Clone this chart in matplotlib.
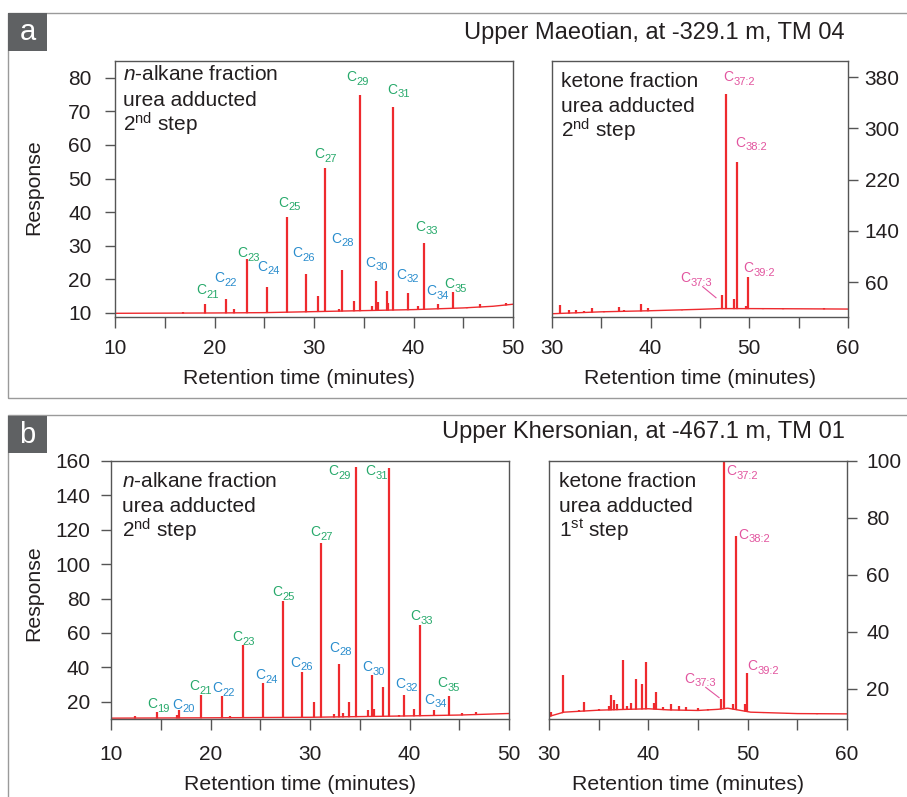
import numpy as np
import matplotlib.pyplot as plt
from matplotlib.patches import Rectangle
from matplotlib.lines import Line2D
from matplotlib.ticker import MultipleLocator

plt.rcParams['font.family'] = ['Liberation Sans', 'DejaVu Sans']
plt.rcParams['mathtext.fontset'] = 'custom'
plt.rcParams['mathtext.rm'] = 'Liberation Sans'
plt.rcParams['mathtext.it'] = 'Liberation Sans:italic'
plt.rcParams['mathtext.bf'] = 'Liberation Sans:bold'

RED = '#ee2a2e'
GREEN = '#27a96b'
BLUE = '#2a8dcd'
PINK = '#e2559f'
FRAME = '#555555'
INK = '#231f20'

W, H = 907, 797

### panel a : n-alkanes (Upper Maeotian)
a_alk_base_t = [10, 20, 25, 30, 35, 40, 45, 48, 50]
a_alk_base_v = [9.9, 10.0, 10.1, 10.4, 10.7, 11.0, 11.5, 12.0, 12.6]
a_alk_peak_t = [16.8, 19.0, 21.15, 22.0, 23.23, 25.28, 27.28, 29.2, 30.37, 31.1, 32.5, 32.85,
                33.97, 34.6, 35.8, 36.25, 36.42, 37.3, 37.47, 37.9, 39.44, 40.47, 41.01,
                42.45, 43.95, 45.4, 46.7, 47.8, 49.3]
a_alk_peak_h = [10.3, 12.6, 14.2, 11.1, 26.2, 17.8, 38.5, 21.6, 15.1, 53.2, 11.3, 22.8,
                13.7, 74.8, 12.1, 19.6, 13.3, 16.6, 13.0, 71.4, 15.9, 12.2, 30.9,
                12.7, 16.2, 11.6, 12.6, 12.2, 12.9]
a_alk_lab = [21, 22, 23, 24, 25, 26, 27, 28, 29, 30, 31, 32, 33, 34, 35]
a_alk_lab_t = [18.21, 19.95, 22.29, 24.3, 26.41, 27.79, 30.03, 31.7, 33.29, 35.2, 37.37,
               38.31, 40.15, 41.32, 43.1]
a_alk_lab_y = [16.8, 20.3, 27.9, 23.8, 42.8, 27.9, 57.2, 32.1, 80.2, 25.0, 76.5,
               21.4, 35.7, 16.5, 18.5]

### panel a : ketones
a_ket_base_t = [30, 35, 40, 45, 47.0, 50.3, 55, 60]
a_ket_base_v = [10.5, 13.5, 15.2, 17.4, 18.5, 18.5, 18.2, 17.8]
a_ket_peak_t = [30.8, 31.7, 32.4, 33.2, 34.1, 35.3, 36.8, 37.3, 39.0, 39.7, 41.5, 43.2,
                44.5, 47.23, 47.6, 48.4, 48.75, 49.7, 49.9, 51.4, 53.4, 57.6]
a_ket_peak_h = [24.5, 16, 17, 15, 19.5, 15, 21.5, 17, 26, 20, 16, 17,
                17.5, 40, 354, 33, 248, 22, 68, 20, 20, 20]
a_ket_lab = ['37:2', '38:2', '39:2', '37:3']
a_ket_lab_t = [47.36, 48.55, 49.39, 43.04]
a_ket_lab_y = [379.5, 277.5, 81.4, 65.8]
a_ket_arrow_t = [45.27, 46.62]
a_ket_arrow_y = [52.7, 35.5]

### panel b : n-alkanes (Upper Khersonian)
b_alk_base_t = [10, 20, 30, 40, 45, 50]
b_alk_base_v = [10.5, 10.7, 11.0, 11.8, 12.3, 13.2]
b_alk_peak_t = [12.4, 14.6, 16.6, 16.8, 19.0, 21.14, 22.0, 23.27, 25.3, 27.32, 29.22,
                30.37, 31.08, 32.38, 32.88, 33.3, 33.95, 34.64, 35.8, 36.26, 36.42,
                37.3, 37.9, 38.9, 39.45, 40.45, 41.02, 42.45, 43.94, 45.3, 46.7]
b_alk_peak_h = [11.5, 13.8, 12.5, 15.2, 24.0, 23.1, 11.5, 52.8, 31.2, 78.8, 37.4,
                20.1, 112.2, 13, 42.1, 13.5, 19.9, 156.7, 15.2, 35.5, 15.8,
                28.6, 155.8, 12.3, 24.0, 16.1, 64.7, 15.4, 23.6, 13.2, 14.0]
b_alk_lab = [19, 20, 21, 22, 23, 24, 25, 26, 27, 28, 29, 30, 31, 32, 33, 34, 35]
b_alk_lab_t = [13.65, 16.13, 17.87, 20.15, 22.23, 24.5, 26.25, 27.99, 30.0, 31.9, 31.84,
               35.26, 35.53, 38.54, 40.05, 41.46, 42.76]
b_alk_lab_y = [18.5, 18.4, 28.9, 28.0, 57.8, 35.4, 83.9, 42.8, 118.8, 51.5, 154,
               40, 154, 30.6, 69.8, 21.2, 31]

### panel b : ketones
b_ket_base_t = [30, 31.5, 35, 40, 42, 45, 47, 48, 50.3, 55, 60]
b_ket_base_v = [10.3, 11.8, 12.5, 13.0, 12.6, 12.4, 12.8, 13.2, 11.8, 11.3, 11.2]
b_ket_peak_t = [30.25, 31.38, 33.0, 33.5, 35.0, 36.0, 36.24, 36.5, 36.8, 37.4, 37.9, 38.3,
                38.8, 39.36, 39.77, 40.6, 40.8, 41.5, 42.25, 43.05, 43.8, 45.0, 46.0,
                47.3, 47.6, 48.55, 48.8, 49.73, 49.93, 51.5, 54.0, 57.0]
b_ket_peak_h = [12, 24.7, 12.5, 15.3, 13, 14, 17.9, 16, 14.5, 30.2, 14, 15,
                23.5, 21.8, 29.5, 15, 18.9, 13.5, 14.7, 14, 13.5, 13.3, 13,
                16.5, 110, 14.8, 73.6, 14.5, 25.4, 12, 11.5, 11.5]
b_ket_lab = ['37:2', '38:2', '39:2', '37:3']
b_ket_lab_t = [47.89, 49.06, 49.97, 43.59]
b_ket_lab_y = [96.4, 74.1, 28.0, 23.6]
b_ket_arrow_t = [45.78, 47.12]
b_ket_arrow_y = [20.5, 16.9]


def px_axes(x0, y0, x1, y1):
    # axes from pixel box (top-left origin)
    return fig.add_axes([x0 / W, 1 - y1 / H, (x1 - x0) / W, (y1 - y0) / H])


def draw_trace(ax, base_t, base_v, peak_t, peak_h):
    floor = ax.get_ylim()[0] - 50
    ax.vlines(peak_t, floor, peak_h, color=RED, lw=1.6, zorder=2)
    # hide the spike feet below the baseline
    ax.fill_between(base_t, floor, base_v, color='white', lw=0, zorder=2.1)
    ax.plot(base_t, base_v, color=RED, lw=1.0, zorder=2.2)


def style_axes(ax, xlim, ylim, yticks, right=False, xpad=6, ypad=10):
    ax.set_xlim(xlim)
    ax.set_ylim(ylim)
    ax.xaxis.set_major_locator(MultipleLocator(10))
    ax.xaxis.set_minor_locator(MultipleLocator(5))
    ax.set_yticks(yticks)
    for s in ax.spines.values():
        s.set_color(FRAME)
        s.set_linewidth(1.0)
    ax.tick_params(axis='x', which='both', direction='out', length=8, width=1,
                   color=FRAME, labelcolor=INK, labelsize=15, pad=xpad)
    ax.tick_params(axis='x', which='minor', labelbottom=False)
    if right:
        ax.yaxis.tick_right()
    ax.tick_params(axis='y', direction='out', length=7, width=1, color=FRAME,
                   labelcolor=INK, labelsize=15, pad=ypad)


def label_peaks(ax, names, ts, ys, colours):
    # "C" plus a smaller subscript beside it
    for n, t, y, c in zip(names, ts, ys, colours):
        ax.text(t, y, 'C', color=c, fontsize=10, ha='left', va='center', zorder=4)
        ax.annotate(str(n), (t, y), xytext=(7.3, -3.4), textcoords='offset points',
                    color=c, fontsize=8, ha='left', va='center', zorder=4)


def block_text(ax, x, ys, lines):
    for y, s in zip(ys, lines):
        ax.text(x, y, s, transform=ax.transAxes, fontsize=15, color=INK,
                ha='left', va='baseline')


fig = plt.figure(figsize=(W / 100, H / 100), dpi=100)

# panel frames and letter boxes
fig.patches.append(Rectangle((8 / W, 1 - 398 / H), 1.0, 385 / H, transform=fig.transFigure,
                             fill=False, ec='#9a9a9a', lw=1.0))
fig.patches.append(Rectangle((8 / W, -0.05), 1.0, 1 - 415 / H + 0.05, transform=fig.transFigure,
                             fill=False, ec='#9a9a9a', lw=1.0))
fig.patches.append(Rectangle((8 / W, 1 - 50.7 / H), 38.7 / W, 37.7 / H,
                             transform=fig.transFigure, color='#5f6163', lw=0))
fig.patches.append(Rectangle((8 / W, 1 - 453.3 / H), 38.7 / W, 37.7 / H,
                             transform=fig.transFigure, color='#5f6163', lw=0))
fig.text(27.5 / W, 1 - 40 / H, 'a', color='white', fontsize=21, ha='center', va='baseline')
fig.text(27.5 / W, 1 - 443.3 / H, 'b', color='white', fontsize=21, ha='center', va='baseline')

fig.text(845 / W, 1 - 33 / H, 'Upper Maeotian, at -329.1 m, TM 04', fontsize=17,
         color=INK, ha='right', va='center')
fig.text(845 / W, 1 - 432 / H, 'Upper Khersonian, at -467.1 m, TM 01', fontsize=17,
         color=INK, ha='right', va='center')

##a : n-alkanes
ax1 = px_axes(115, 61, 513, 317)
style_axes(ax1, (10, 50), (8.8, 85), np.arange(10, 81, 10), xpad=8, ypad=10)
draw_trace(ax1, a_alk_base_t, a_alk_base_v, a_alk_peak_t, a_alk_peak_h)
label_peaks(ax1, a_alk_lab, a_alk_lab_t, a_alk_lab_y,
            [GREEN if n % 2 else BLUE for n in a_alk_lab])
block_text(ax1, 0.019, [0.926, 0.824, 0.723],
           [r'$n$-alkane fraction', 'urea adducted', r'2$^{\mathregular{nd}}$ step'])

##a : ketones
ax2 = px_axes(552, 61, 848, 317)
style_axes(ax2, (30, 60), (5.4, 405), [60, 140, 220, 300, 380], right=True, xpad=8, ypad=5)
draw_trace(ax2, a_ket_base_t, a_ket_base_v, a_ket_peak_t, a_ket_peak_h)
label_peaks(ax2, a_ket_lab, a_ket_lab_t, a_ket_lab_y, [PINK] * 4)
ax2.add_line(Line2D(a_ket_arrow_t, a_ket_arrow_y, color=PINK, lw=0.8))
block_text(ax2, 0.029, [0.897, 0.802, 0.702],
           ['ketone fraction', 'urea adducted', r'2$^{\mathregular{nd}}$ step'])

##b : n-alkanes
ax3 = px_axes(111, 461, 509, 719)
style_axes(ax3, (10, 50), (10, 160), np.arange(20, 161, 20), xpad=10.5, ypad=8)
draw_trace(ax3, b_alk_base_t, b_alk_base_v, b_alk_peak_t, b_alk_peak_h)
label_peaks(ax3, b_alk_lab, b_alk_lab_t, b_alk_lab_y,
            [GREEN if n % 2 else BLUE for n in b_alk_lab])
block_text(ax3, 0.027, [0.898, 0.804, 0.704],
           [r'$n$-alkane fraction', 'urea adducted', r'2$^{\mathregular{nd}}$ step'])

##b : ketones
ax4 = px_axes(549, 461, 847, 719)
style_axes(ax4, (30, 60), (9.4, 100), np.arange(20, 101, 20), right=True, xpad=10.5, ypad=7)
draw_trace(ax4, b_ket_base_t, b_ket_base_v, b_ket_peak_t, b_ket_peak_h)
label_peaks(ax4, b_ket_lab, b_ket_lab_t, b_ket_lab_y, [PINK] * 4)
ax4.add_line(Line2D(b_ket_arrow_t, b_ket_arrow_y, color=PINK, lw=0.8))
block_text(ax4, 0.035, [0.898, 0.804, 0.704],
           ['ketone fraction', 'urea adducted', r'1$^{\mathregular{st}}$ step'])

# axis titles
for x, y in [(299, 378.5), (700, 378.5), (300, 785), (688, 785)]:
    fig.text(x / W, 1 - y / H, 'Retention time (minutes)', fontsize=15.3, color=INK,
             ha='center', va='center')
for y in [187, 593]:
    fig.text(34 / W, 1 - y / H, 'Response', fontsize=15.3, color=INK, rotation=90,
             ha='center', va='center')

fig.savefig('out.png', dpi=100)
